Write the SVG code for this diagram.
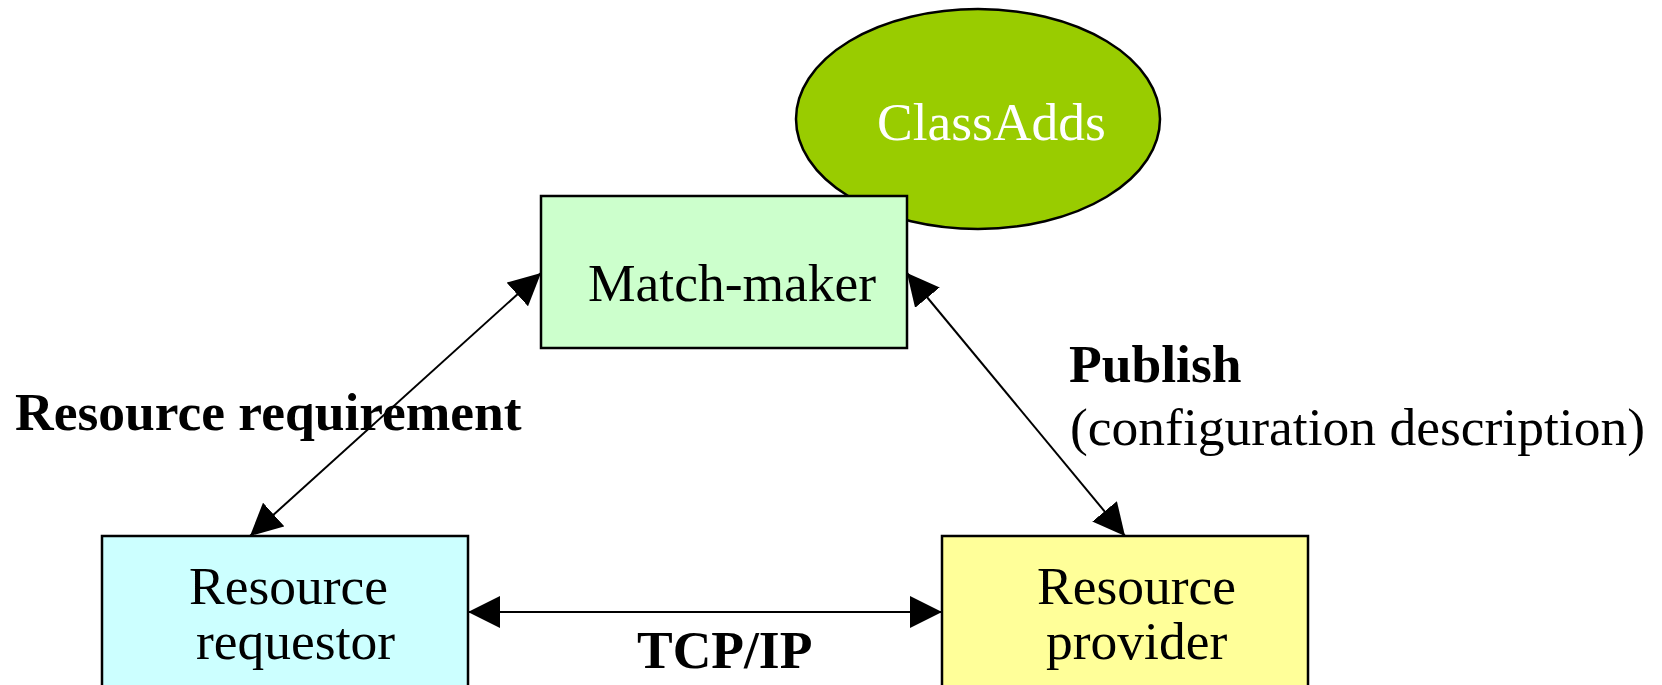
<svg xmlns="http://www.w3.org/2000/svg" width="1662" height="685" viewBox="0 0 1662 685">
  <style>
    .box { stroke: #000; stroke-width: 2.5; }
    .lbl { font-family: "Liberation Serif", "Times New Roman", serif; font-size: 53.5px; fill: #000; }
    .bold { font-weight: bold; }
    .conn { stroke: #000; stroke-width: 2; fill: none; }
  </style>
  <defs>
    <marker id="arrow" viewBox="0 0 32 32" refX="32" refY="16" markerWidth="32" markerHeight="32" markerUnits="userSpaceOnUse" orient="auto-start-reverse">
      <path d="M0,0 L32,16 L0,32 z" fill="#000"/>
    </marker>
  </defs>
  <rect width="1662" height="685" fill="#fff"/>

  <!-- ClassAdds store -->
  <g id="classadds">
    <ellipse cx="978" cy="119" rx="182" ry="110" fill="#99CC00" stroke="#000" stroke-width="2.5"/>
    <text class="lbl" x="877" y="140" style="fill:#fff">ClassAdds</text>
  </g>

  <!-- Match-maker -->
  <g id="matchmaker">
    <rect class="box" x="541" y="196" width="366" height="152" fill="#CCFFCC"/>
    <text class="lbl" x="588" y="301">Match-maker</text>
  </g>

  <!-- Resource requestor -->
  <g id="requestor">
    <rect class="box" x="102" y="536" width="366" height="170" fill="#CCFFFF"/>
    <text class="lbl" x="189" y="604">Resource</text>
    <text class="lbl" x="196" y="659">requestor</text>
  </g>

  <!-- Resource provider -->
  <g id="provider">
    <rect class="box" x="942" y="536" width="366" height="170" fill="#FFFF99"/>
    <text class="lbl" x="1037" y="604">Resource</text>
    <text class="lbl" x="1046" y="659">provider</text>
  </g>

  <!-- Connectors -->
  <g id="connectors">
    <line class="conn" x1="250" y1="536" x2="541" y2="273" marker-start="url(#arrow)" marker-end="url(#arrow)"/>
    <line class="conn" x1="1125" y1="536" x2="907" y2="273" marker-start="url(#arrow)" marker-end="url(#arrow)"/>
    <line class="conn" x1="468" y1="612" x2="942" y2="612" stroke-width="3" marker-start="url(#arrow)" marker-end="url(#arrow)"/>
  </g>

  <!-- Connector labels -->
  <g id="labels">
    <text class="lbl bold" x="15" y="430">Resource requirement</text>
    <text class="lbl bold" x="1069" y="382">Publish</text>
    <text class="lbl" x="1070" y="445">(configuration description)</text>
    <text class="lbl bold" x="637" y="668">TCP/IP</text>
  </g>
</svg>
